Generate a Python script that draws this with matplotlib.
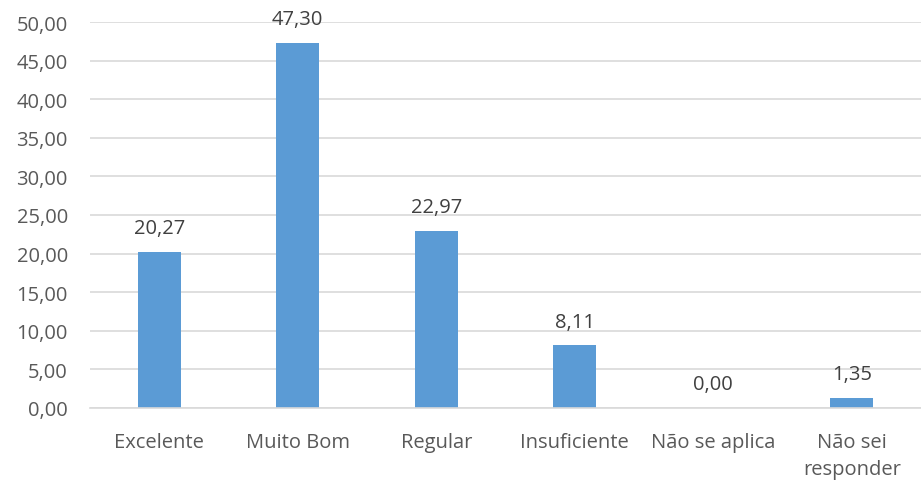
import matplotlib
matplotlib.use("Agg")
import matplotlib.pyplot as plt
import numpy as np

categories = ["Excelente", "Muito Bom", "Regular", "Insuficiente", "Não se aplica", "Não sei\nresponder"]
values = [20.27, 47.30, 22.97, 8.11, 0.00, 1.35]
yticks = [0, 5, 10, 15, 20, 25, 30, 35, 40, 45, 50]

def fmt(v):
    return f"{v:.2f}".replace(".", ",")

plt.rcParams['font.family'] = ['Open Sans', 'DejaVu Sans']
fig = plt.figure(figsize=(9.21, 4.81), dpi=100)
ax = fig.add_axes([90/921, (481-409)/481, 831/921, (409-23)/481])
x = np.arange(len(categories))
ax.bar(x, values, width=0.31, color="#5B9BD5", zorder=3)
for xi, v in zip(x, values):
    ax.annotate(fmt(v), (xi, v), xytext=(0, 10), textcoords="offset points",
                ha="center", va="bottom", fontsize=14.5, color="#404040")
ax.set_xlim(-0.5, len(categories) - 0.5)
ax.set_ylim(0, 50)
ax.set_yticks(yticks)
ax.set_yticklabels([fmt(t) for t in yticks])
ax.set_xticks(x)
ax.set_xticklabels(categories, linespacing=1.5)
ax.grid(axis="y", color="#D9D9D9", linewidth=1.2, zorder=0)
for s in ["left", "right", "top"]:
    ax.spines[s].set_visible(False)
ax.spines["bottom"].set_color("#D9D9D9")
ax.spines["bottom"].set_linewidth(1.2)
ax.spines["bottom"].set_zorder(4)
ax.tick_params(axis="both", length=0, labelsize=14.5, labelcolor="#595959")
ax.tick_params(axis="y", pad=16)
ax.tick_params(axis="x", pad=17)
fig.savefig("out.png", dpi=100)
